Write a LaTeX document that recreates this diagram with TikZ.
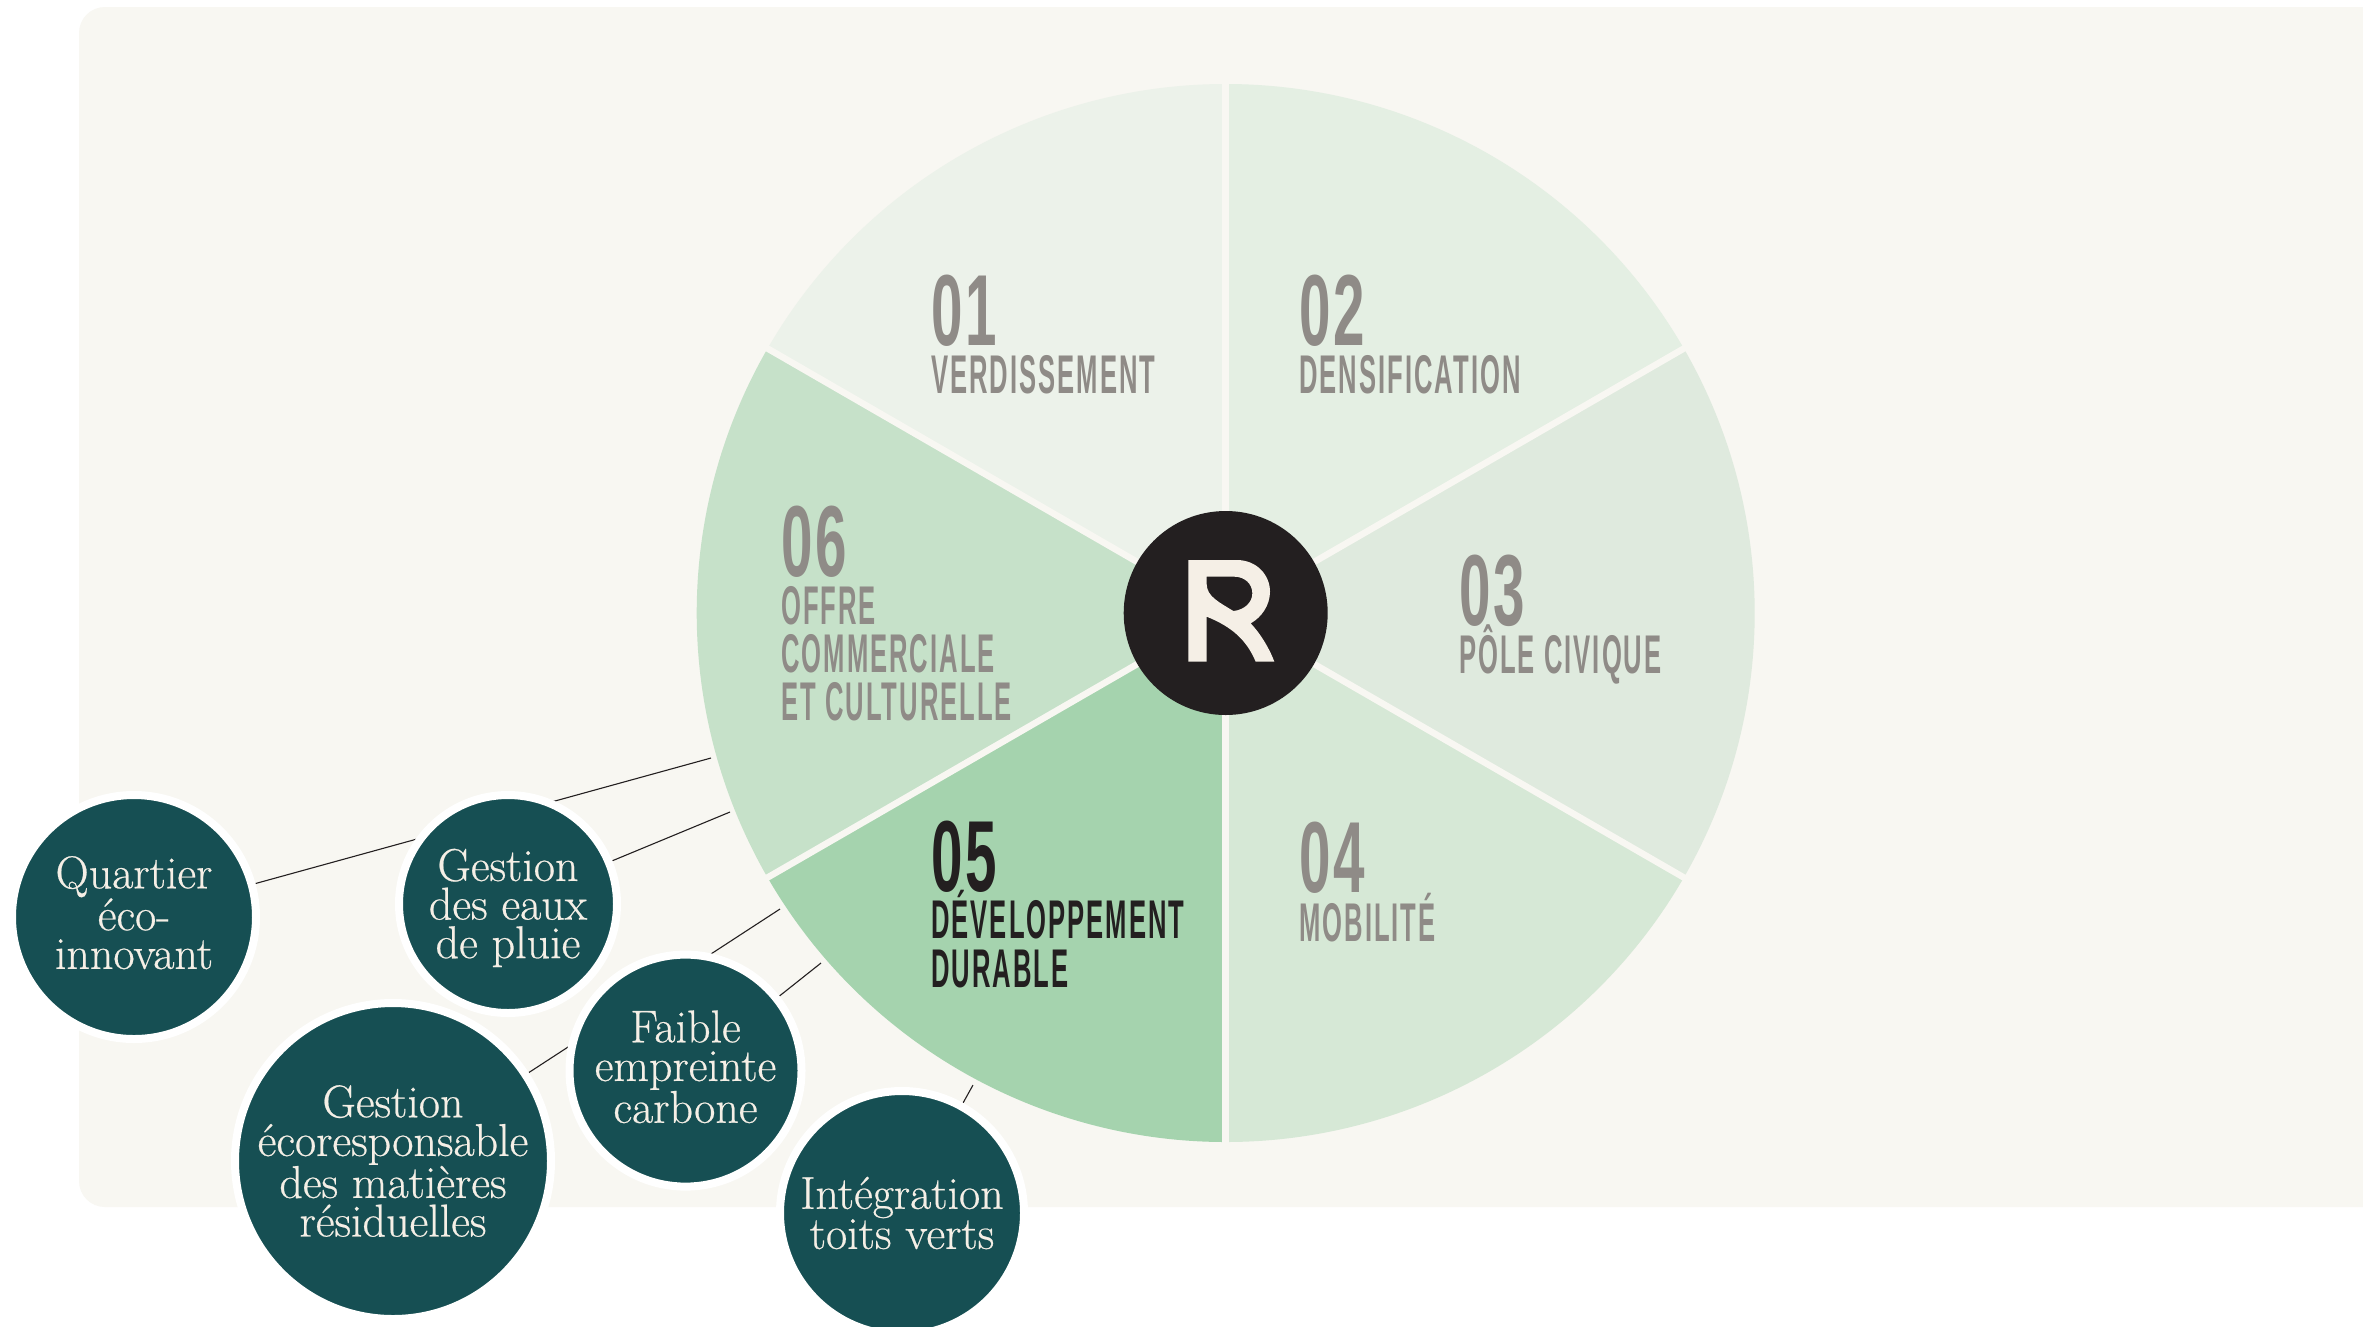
\documentclass[tikz,border=0pt]{standalone}
\usepackage{fontspec}
\newfontfamily\condfont[FakeStretch=0.47,LetterSpace=3.7]{Liberation Sans Bold}
\newfontfamily\numfont[FakeStretch=0.56,LetterSpace=3]{Liberation Sans Bold}
\newfontfamily\bubfont[FakeBold=0.5]{Latin Modern Roman}
\definecolor{panelbg}{HTML}{F8F7F2}
\definecolor{secA}{HTML}{ECF2EA}
\definecolor{secB}{HTML}{E4EFE3}
\definecolor{secC}{HTML}{DFEADE}
\definecolor{secD}{HTML}{D6E8D6}
\definecolor{secE}{HTML}{A5D3AE}
\definecolor{secF}{HTML}{C6E1C9}
\definecolor{teal}{HTML}{164F53}
\definecolor{cream}{HTML}{F5EFE6}
\definecolor{greytxt}{HTML}{8F8B87}
\definecolor{ink}{HTML}{231F20}
\pgfdeclarelayer{front}
\pgfsetlayers{main,front}
\tikzset{
  sep/.style={draw=panelbg,line width=6.5pt},
  conn/.style={draw=ink,line width=1.1pt},
  bubble/.style={circle,fill=teal,draw=white,line width=8pt,inner sep=0pt,text=cream,align=center,
    font=\bubfont\fontsize{46}{38.6}\selectfont},
  num/.style={anchor=base west,inner sep=0pt,text=greytxt,font=\numfont\fontsize{101}{101}\selectfont},
  lab/.style={anchor=base west,inner sep=0pt,text=greytxt,font=\condfont\fontsize{54.5}{54.5}\selectfont},
}
\begin{document}
\begin{tikzpicture}[x=1pt,y=-1pt]
\useasboundingbox (0,0) rectangle (2363,1326);
\fill[white] (0,0) rectangle (2363,1326);
\fill[panelbg] (2363,7) -- (105,7) arc[start angle=90,end angle=180,radius=26pt] -- (79,1181)
  arc[start angle=180,end angle=270,radius=26pt] -- (2363,1207) -- cycle;
\coordinate (c) at (1225.7,613);
\fill[secA] (c) -- ++(90:529pt) arc[start angle=90,end angle=150,radius=529pt] -- cycle;
\fill[secB] (c) -- ++(30:529pt) arc[start angle=30,end angle=90,radius=529pt] -- cycle;
\fill[secC] (c) -- ++(-30:529pt) arc[start angle=-30,end angle=30,radius=529pt] -- cycle;
\fill[secD] (c) -- ++(-90:529pt) arc[start angle=-90,end angle=-30,radius=529pt] -- cycle;
\fill[secE] (c) -- ++(-150:529pt) arc[start angle=-150,end angle=-90,radius=529pt] -- cycle;
\fill[secF] (c) -- ++(150:529pt) arc[start angle=150,end angle=210,radius=529pt] -- cycle;
\foreach \a in {90,30,-30,-90,-150,150} \draw[sep] (c) -- ++(\a:533pt);
\node[circle,fill=ink,minimum size=204pt,inner sep=0pt] (hub) at (c) {};
\begin{scope}[shift={(1080,480)},x=0.33333pt,y=-0.33333pt]
\fill[cream,even odd rule] (325,240) -- (470,240) .. controls (530,240) and (570,285) .. (570,335)
  .. controls (570,375) and (545,412) .. (512,430) .. controls (545,465) and (570,510) .. (583,545)
  -- (527,545) .. controls (500,480) and (455,440) .. (380,410) -- (380,545) -- (325,545) -- cycle
  (380,290) -- (462,290) .. controls (495,290) and (517,312) .. (517,340)
  .. controls (517,368) and (492,390) .. (460,393) .. controls (420,368) and (380,350) .. (380,312) -- cycle;
\end{scope}

\node[num] (n1) at (931,345) {01};
\node[lab] (l1) at (931,393) {VERDISSEMENT};
\node[num] (n2) at (1299,345) {02};
\node[lab] (l2) at (1299,393) {DENSIFICATION};
\node[num] (n3) at (1459,625) {03};
\node[lab] (l3) at (1459,673) {PÔLE CIVIQUE};
\node[num] (n4) at (1299,892) {04};
\node[lab] (l4) at (1299,941) {MOBILITÉ};
\node[num,text=ink] (n5) at (931,891) {05};
\node[lab,text=ink] (l5a) at (931,938) {DÉVELOPPEMENT};
\node[lab,text=ink] (l5b) at (931,987) {DURABLE};
\node[num] (n6) at (781,576) {06};
\node[lab] (l6a) at (781,624) {OFFRE};
\node[lab] (l6b) at (781,672) {COMMERCIALE};
\node[lab] (l6c) at (781,720) {ET CULTURELLE};

\begin{pgfonlayer}{front}
\node[bubble,minimum size=244pt] (q) at (134,917) {Quartier\\éco-\\innovant\rule[-9pt]{0pt}{1pt}};
\node[bubble,minimum size=218pt] (e) at (508,904) {\rule{0pt}{40pt}Gestion\\des eaux\\de pluie};
\node[bubble,minimum size=232pt] (f) at (685.5,1070.6) {Faible\\empreinte\\carbone\rule[-8pt]{0pt}{1pt}};
\node[bubble,minimum size=316pt] (g) at (393,1161) {Gestion\\écoresponsable\\des matières\\résiduelles};
\node[bubble,minimum size=244pt] (i) at (902,1213) {Intégration\\toits verts};
\end{pgfonlayer}

\coordinate (qe) at (711,758);
\coordinate (ee) at (730,812);
\coordinate (ge) at (780,909);
\coordinate (fe) at (821,963);
\coordinate (ie) at (973,1085);
\draw[conn] (q) -- (qe);
\draw[conn] (e) -- (ee);
\draw[conn] (g) -- (ge);
\draw[conn] (f) -- (fe);
\draw[conn] (i) -- (ie);
\end{tikzpicture}
\end{document}
